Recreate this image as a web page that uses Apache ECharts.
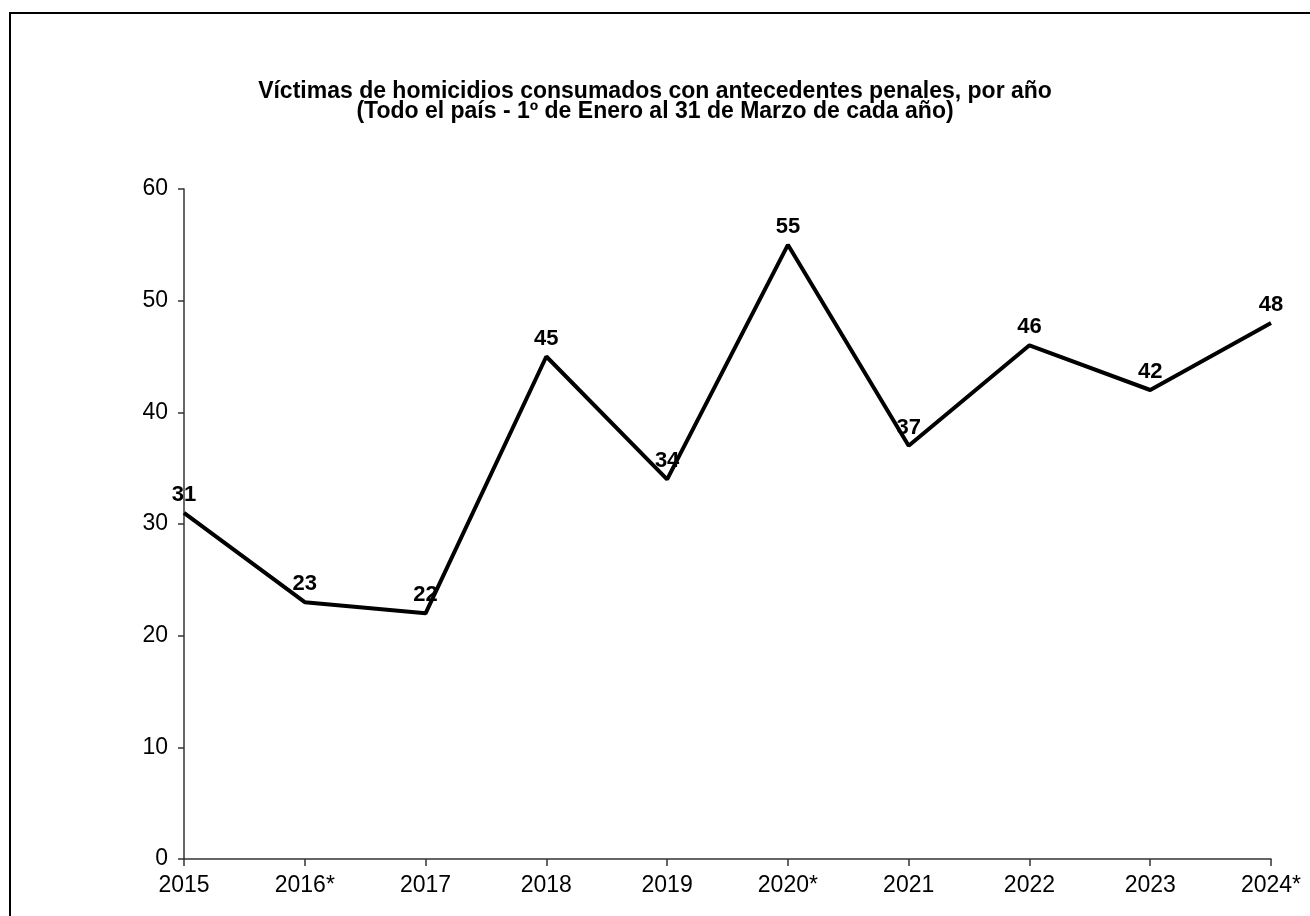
<!DOCTYPE html>
<html>
<head>
<meta charset="utf-8">
<script src="https://cdn.jsdelivr.net/npm/echarts@6/dist/echarts.min.js"></script>
<style>
  html, body { margin: 0; padding: 0; background: #fff; }
  #chart { width: 1310px; height: 916px; }
</style>
</head>
<body>
<div id="chart"></div>
<script>
// 年份（带*号的年份保持原样）
var years = ["2015", "2016*", "2017", "2018", "2019", "2020*", "2021", "2022", "2023", "2024*"];
// 每年受害人数
var victims = [31, 23, 22, 45, 34, 55, 37, 46, 42, 48];
// 纵轴刻度
var yTicks = [0, 10, 20, 30, 40, 50, 60];

var chart = echarts.init(document.getElementById("chart"));

var option = {
    backgroundColor: "#fff",
    animation: false,
    textStyle: { fontFamily: "Liberation Sans, Arial, sans-serif" },
    title: {
        text: "Víctimas de homicidios consumados con antecedentes penales, por año\n(Todo el país - 1º de Enero al 31 de Marzo de cada año)",
        left: 650,
        textAlign: "center",
        top: 77,
        textStyle: {
            fontFamily: "Liberation Sans, Arial, sans-serif",
            fontSize: 23,
            fontWeight: "bold",
            lineHeight: 20,
            color: "#000"
        }
    },
    // 外框
    graphic: [{
        type: "rect",
        shape: { x: 10, y: 13, width: 1400, height: 1000 },
        style: { fill: "none", stroke: "#000", lineWidth: 2 },
        silent: true
    }],
    grid: { left: 184, right: 39, top: 189, bottom: 57, containLabel: false },
    xAxis: {
        type: "category",
        boundaryGap: false,
        data: years,
        axisLine: { lineStyle: { color: "#333", width: 1.5 } },
        axisTick: { show: true, alignWithLabel: true, length: 7, lineStyle: { color: "#333", width: 1.5 } },
        axisLabel: { color: "#000", fontSize: 23, margin: 15, interval: 0 }
    },
    yAxis: {
        type: "value",
        min: yTicks[0],
        max: yTicks[yTicks.length - 1],
        interval: 10,
        splitLine: { show: false },
        axisLine: { show: true, lineStyle: { color: "#333", width: 1.5 } },
        axisTick: { show: true, length: 6, lineStyle: { color: "#333", width: 1.5 } },
        axisLabel: { color: "#000", fontSize: 23, margin: 16 }
    },
    series: [{
        type: "line",
        data: victims,
        symbol: "circle",
        symbolSize: 0,
        showSymbol: true,
        lineStyle: { color: "#000", width: 4 },
        itemStyle: { color: "#000" },
        label: {
            show: true,
            position: "top",
            distance: 7,
            color: "#000",
            fontSize: 22,
            fontWeight: "bold"
        }
    }]
};

chart.setOption(option);
</script>
</body>
</html>
